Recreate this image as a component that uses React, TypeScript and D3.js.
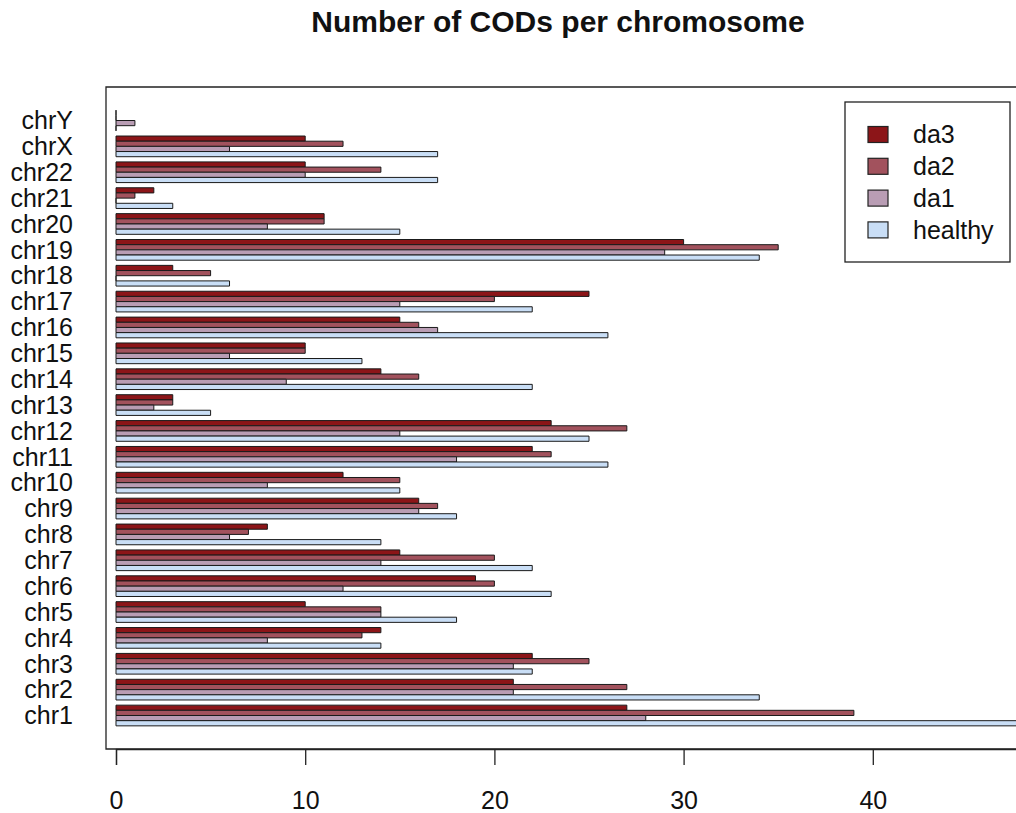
import * as d3 from 'd3';
import React, { useEffect, useRef } from 'react';

// Data (group order top to bottom is chrY ... chr1)
const chromosomes = ["chr1", "chr2", "chr3", "chr4", "chr5", "chr6", "chr7", "chr8", "chr9", "chr10",
    "chr11", "chr12", "chr13", "chr14", "chr15", "chr16", "chr17", "chr18", "chr19", "chr20",
    "chr21", "chr22", "chrX", "chrY"];
const seriesNames = ["da3", "da2", "da1", "healthy"];
const da3 = [27, 21, 22, 14, 10, 19, 15, 8, 16, 12, 22, 23, 3, 14, 10, 15, 25, 3, 30, 11, 2, 10, 10, 0];
const da2 = [39, 27, 25, 13, 14, 20, 20, 7, 17, 15, 23, 27, 3, 16, 10, 16, 20, 5, 35, 11, 1, 14, 12, 0];
const da1 = [28, 21, 21, 8, 14, 12, 14, 6, 16, 8, 18, 15, 2, 9, 6, 17, 15, 0, 29, 8, 0, 10, 6, 1];
const healthy = [48, 34, 22, 14, 18, 23, 22, 14, 18, 15, 26, 25, 5, 22, 13, 26, 22, 6, 34, 15, 3, 17, 17, 0];
// the 50 tick lies outside the picture, only 0..40 are visible
const xTicks = [0, 10, 20, 30, 40];
const title = "Number of CODs per chromosome";

const colors = ["#8c1518", "#a2525d", "#b99db4", "#c9def6"];

export default function App() {
    const svgRef = useRef(null);

    const width = 1016;
    const height = 813;
    const font = "'Liberation Sans', Arial, Helvetica, sans-serif";

    useEffect(() => {
        const svg = d3.select(svgRef.current);
        svg.selectAll("*").remove();

        const values = [da3, da2, da1, healthy];

        // plot region
        const left = 106, top = 87, bottom = 749;

        let x = d3.scaleLinear().domain([0, 50]).range([116, 116 + 50 * 18.92]);

        let y = d3.scaleBand()
            .domain(chromosomes.slice().reverse())
            .range([top, bottom])
            .paddingInner(0.2)
            .paddingOuter(0.895);

        let ySub = d3.scaleBand()
            .domain(seriesNames)
            .range([0, y.bandwidth()]);

        // bars
        const g = svg.append("g");
        chromosomes.forEach((chr, i) => {
            seriesNames.forEach((s, j) => {
                const v = values[j][i];
                const p = d3.path();
                p.rect(x(0), y(chr) + ySub(s), x(v) - x(0), ySub.bandwidth());
                g.append("path")
                    .attr("d", p.toString())
                    .attr("fill", colors[j])
                    .attr("stroke", "#1a1a1a")
                    .attr("stroke-width", 1);
            });
        });

        // box (right edge is outside the picture)
        svg.append("path")
            .attr("d", `M${width + 40},${top}H${left}V${bottom}H${width + 40}`)
            .attr("fill", "none")
            .attr("stroke", "#222")
            .attr("stroke-width", 1.3);

        // X AXIS
        const xAxis = svg.append("g")
            .attr("transform", "translate(0," + bottom + ")")
            .call(d3.axisBottom(x).tickValues(xTicks).tickSizeOuter(0).tickSize(16).tickPadding(26).tickFormat(d3.format("d")));
        xAxis.selectAll("path, line").attr("stroke", "#222").attr("stroke-width", 1.3);
        xAxis.selectAll("text")
            .attr("fill", "#111")
            .attr("font-family", font)
            .attr("font-size", 25);

        // Y labels
        svg.append("g")
            .selectAll("text")
            .data(chromosomes)
            .enter()
            .append("text")
            .attr("x", 73)
            .attr("y", d => y(d) + y.bandwidth() / 2)
            .attr("dy", "0.35em")
            .attr("text-anchor", "end")
            .attr("font-family", font)
            .attr("font-size", 25)
            .attr("fill", "#111")
            .text(d => d);

        // TITLE
        svg.append("text")
            .attr("x", 558)
            .attr("y", 32)
            .attr("text-anchor", "middle")
            .attr("font-family", font)
            .attr("font-weight", "bold")
            .attr("font-size", 30)
            .attr("fill", "#111")
            .text(title);

        // LEGEND
        const leg = svg.append("g");
        leg.append("rect")
            .attr("x", 845).attr("y", 102)
            .attr("width", 165).attr("height", 160)
            .attr("fill", "white")
            .attr("stroke", "#222")
            .attr("stroke-width", 1.3);
        seriesNames.forEach((s, j) => {
            const cy = 134.5 + j * 31.8;
            leg.append("rect")
                .attr("x", 868).attr("y", cy - 8)
                .attr("width", 20).attr("height", 16)
                .attr("fill", colors[j])
                .attr("stroke", "#222")
                .attr("stroke-width", 1.2);
            leg.append("text")
                .attr("x", 913)
                .attr("y", cy)
                .attr("dy", "0.35em")
                .attr("font-family", font)
                .attr("font-size", 25)
                .attr("fill", "#111")
                .text(s);
        });
    }, []);

    return (
        <svg ref={svgRef} width={width} height={height}
            style={{ position: "absolute", left: 0, top: 0, background: "white" }}></svg>
    );
}
